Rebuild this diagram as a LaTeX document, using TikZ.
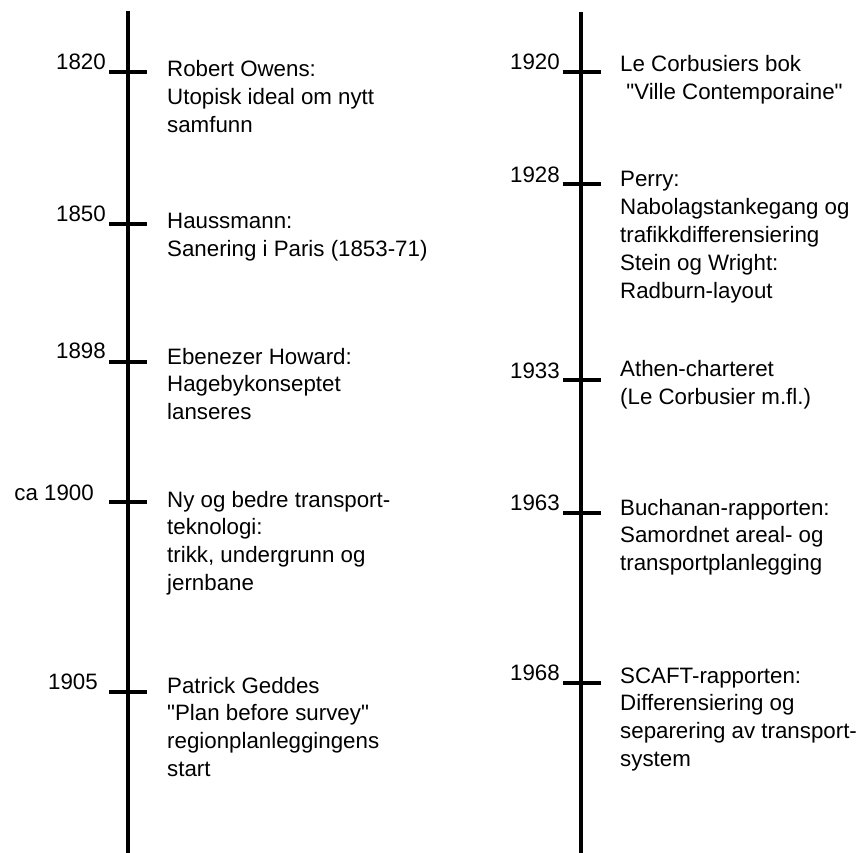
\documentclass[tikz,border=0pt]{standalone}
\usepackage{fontspec}
\setmainfont{Liberation Sans}[Ligatures=TeXOff]
% multi-line event text whose baseline is that of its first line
\newcommand{\evtlines}[1]{\begin{tabular}[t]{@{}l@{}}#1\end{tabular}}
\begin{document}
\begin{tikzpicture}[x=1pt,y=-1pt,
  axis/.style={line width=3.4pt},
  tickmark/.style={line width=3.2pt},
  year/.style={anchor=base east,inner sep=0pt,font=\fontsize{22.3}{27.8}\selectfont},
  event/.style={anchor=base west,inner sep=0pt,font=\fontsize{22.3}{27.8}\selectfont}]
\useasboundingbox (0,0) rectangle (863,853);

% left time axis
\coordinate (La) at (128,11);
\coordinate (Lb) at (128,853);
\draw[axis] (La) -- (Lb);

% right time axis
\coordinate (Ra) at (581,12);
\coordinate (Rb) at (581,853);
\draw[axis] (Ra) -- (Rb);

% ---- left column ----
\coordinate (t1820a) at (109,72); \coordinate (t1820b) at (147,72);
\draw[tickmark] (t1820a) -- (t1820b);
\node[year] (y1820) at (106,70) {1820};
\node[event] (e1820) at (167,77) {\evtlines{Robert Owens:\\Utopisk ideal om nytt\\samfunn}};

\coordinate (t1850a) at (109,224); \coordinate (t1850b) at (147,224);
\draw[tickmark] (t1850a) -- (t1850b);
\node[year] (y1850) at (106,222) {1850};
\node[event] (e1850) at (167,229) {\evtlines{Haussmann:\\Sanering i Paris (1853-71)}};

\coordinate (t1898a) at (109,362); \coordinate (t1898b) at (147,362);
\draw[tickmark] (t1898a) -- (t1898b);
\node[year] (y1898) at (106,359) {1898};
\node[event] (e1898) at (167,364) {\evtlines{Ebenezer Howard:\\Hagebykonseptet\\lanseres}};

\coordinate (t1900a) at (109,502); \coordinate (t1900b) at (147,502);
\draw[tickmark] (t1900a) -- (t1900b);
\node[year] (y1900) at (94,500) {ca 1900};
\node[event] (e1900) at (167,507) {\evtlines{Ny og bedre transport-\\teknologi:\\trikk, undergrunn og\\jernbane}};

\coordinate (t1905a) at (109,692); \coordinate (t1905b) at (147,692);
\draw[tickmark] (t1905a) -- (t1905b);
\node[year] (y1905) at (98,689) {1905};
\node[event] (e1905) at (167,693) {\evtlines{Patrick Geddes\\"Plan before survey"\\regionplanleggingens\\start}};

% ---- right column ----
\coordinate (t1920a) at (563,72); \coordinate (t1920b) at (601,72);
\draw[tickmark] (t1920a) -- (t1920b);
\node[year] (y1920) at (560,70) {1920};
\node[event] (e1920) at (620,72) {\evtlines{Le Corbusiers bok\\~"Ville Contemporaine"}};

\coordinate (t1928a) at (563,184); \coordinate (t1928b) at (601,184);
\draw[tickmark] (t1928a) -- (t1928b);
\node[year] (y1928) at (560,183) {1928};
\node[event] (e1928) at (620,187) {\evtlines{Perry:\\Nabolagstankegang og\\trafikkdifferensiering\\Stein og Wright:\\Radburn-layout}};

\coordinate (t1933a) at (563,380); \coordinate (t1933b) at (601,380);
\draw[tickmark] (t1933a) -- (t1933b);
\node[year] (y1933) at (560,378) {1933};
\node[event] (e1933) at (620,377) {\evtlines{Athen-charteret\\(Le Corbusier m.fl.)}};

\coordinate (t1963a) at (563,513); \coordinate (t1963b) at (601,513);
\draw[tickmark] (t1963a) -- (t1963b);
\node[year] (y1963) at (560,510) {1963};
\node[event] (e1963) at (620,515) {\evtlines{Buchanan-rapporten:\\Samordnet areal- og\\transportplanlegging}};

\coordinate (t1968a) at (563,683); \coordinate (t1968b) at (601,683);
\draw[tickmark] (t1968a) -- (t1968b);
\node[year] (y1968) at (560,680) {1968};
\node[event] (e1968) at (620,683) {\evtlines{SCAFT-rapporten:\\Differensiering og\\separering av transport-\\system}};
\end{tikzpicture}
\end{document}
